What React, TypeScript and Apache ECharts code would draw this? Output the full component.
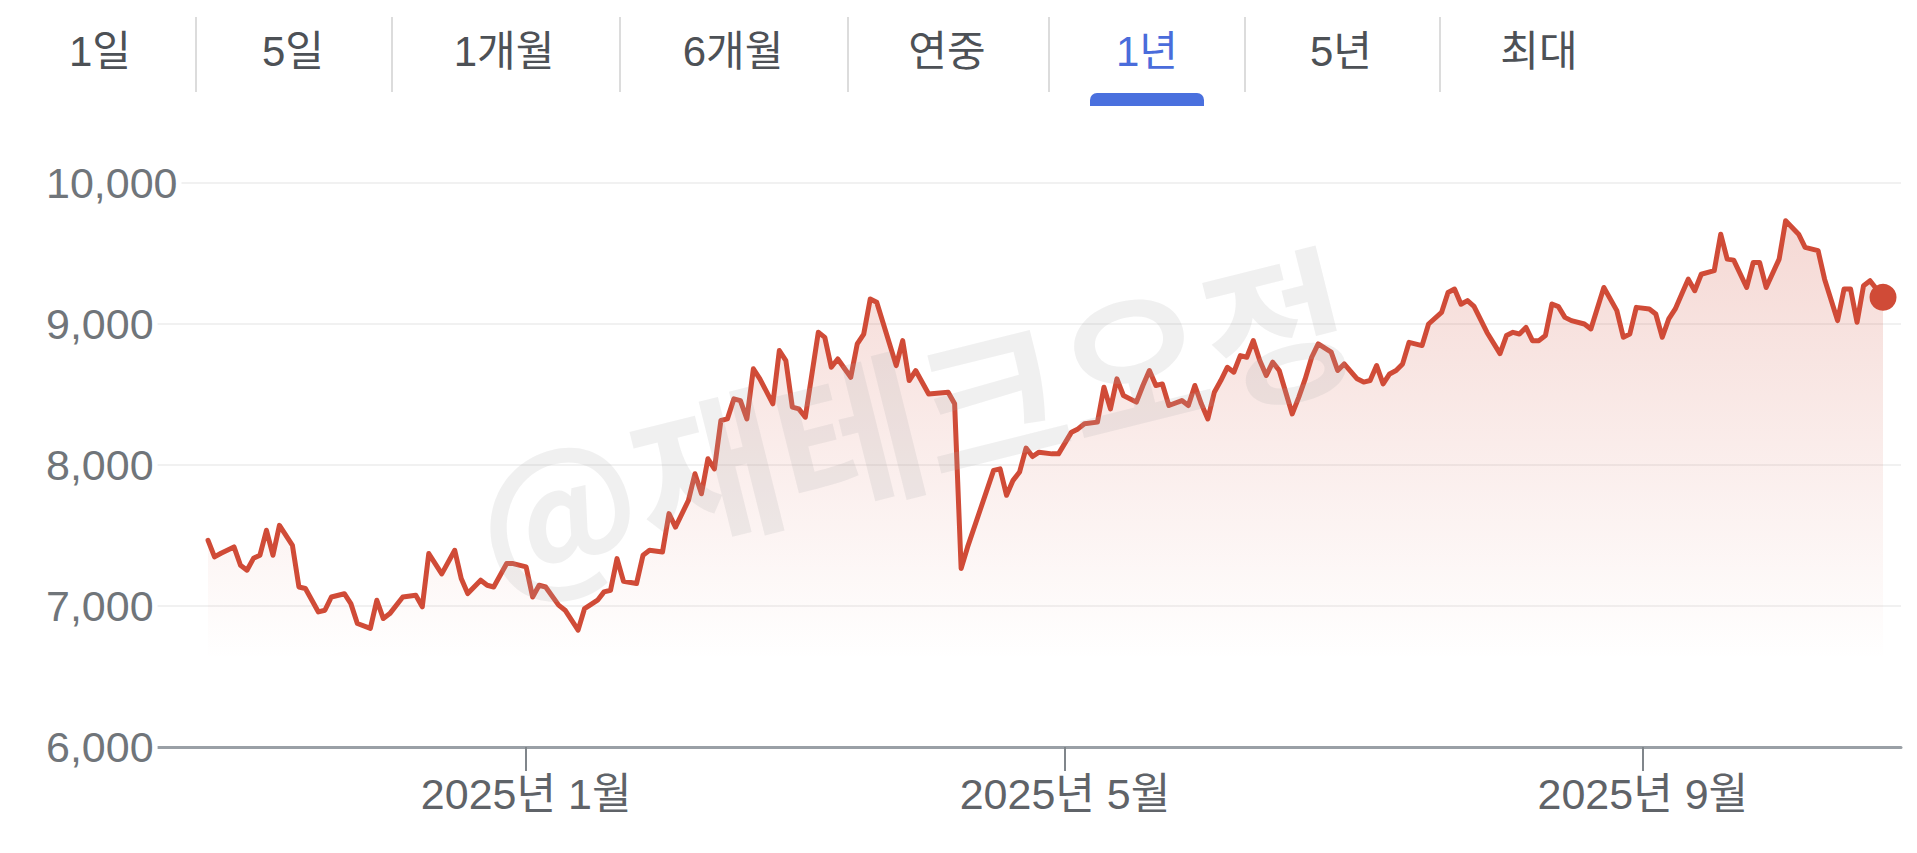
import React, { useEffect, useRef } from "react";
import * as echarts from "echarts";

// ---- data ----
const tabLabels = ["1일", "5일", "1개월", "6개월", "연중", "1년", "5년", "최대"];
const activeTab = "1년";
const yMin = 6000;
const yMax = 10000;
const yStep = 1000;
const xTickDays = [49, 132, 221];
const xTickLabels = ["2025년 1월", "2025년 5월", "2025년 9월"];
const watermarkText = "@재테크오정";

// trading-day index of each traced point
const days = [
  0, 1, 2, 4, 5, 6, 7, 8, 9, 10, 11, 13, 14, 15, 17, 18, 19, 21, 22, 23, 25, 26, 27, 28, 30, 32, 33, 34, 36, 38,
  39, 40, 42, 43, 44, 46, 47, 49, 50, 51, 52, 54, 55, 57, 58, 60, 61, 62, 63, 64, 66, 67, 68, 70, 71, 72, 74, 75,
  76, 77, 78, 79, 80, 81, 82, 83, 84, 85, 87, 88, 89, 90, 91, 92, 94, 95, 96, 97, 99, 100, 101, 102, 103, 106, 107,
  108, 109, 111, 114, 115, 116, 117, 121, 122, 123, 124, 125, 126, 127, 128, 130, 131, 133, 134, 135, 137, 138, 139,
  140, 141, 143, 144, 145, 146, 147, 148, 150, 151, 152, 153, 154, 155, 156, 157, 158, 159, 160, 161, 162, 163, 164,
  165, 167, 168, 169, 170, 171, 173, 174, 175, 177, 178, 179, 180, 181, 182, 183, 184, 185, 187, 188, 190, 191, 192,
  193, 194, 195, 197, 199, 200, 201, 202, 203, 204, 205, 206, 207, 208, 209, 210, 212, 213, 215, 217, 218, 219, 220,
  222, 223, 224, 225, 226, 227, 228, 229, 230, 232, 233, 234, 235, 237, 238, 239, 240, 242, 243, 245, 246, 248, 249,
  251, 252, 253, 254, 255, 256, 257, 258,
];
const prices = [
  7466, 7348, 7374, 7419, 7289, 7254, 7338, 7360, 7537, 7360, 7572, 7430, 7135, 7124, 6958, 6970, 7064, 7087, 7017,
  6876, 6841, 7041, 6911, 6946, 7064, 7076, 6994, 7372, 7228, 7395,
  7195, 7088, 7183, 7147, 7135, 7301, 7301, 7277, 7064, 7147, 7135, 7006, 6970, 6829, 6982, 7041, 7100, 7112, 7336,
  7175, 7159, 7360, 7395, 7383, 7655, 7560, 7749, 7938,
  7796, 8044, 7973, 8316, 8327, 8469, 8457, 8327, 8682, 8611, 8434, 8812, 8741, 8410, 8398, 8339, 8941, 8905, 8693,
  8752, 8622, 8859, 8929, 9177, 9154, 8705, 8882,
  8599, 8670, 8504, 8516, 8434, 7266, 7419, 7962, 7973, 7785, 7891, 7950, 8120, 8060, 8091, 8079, 8079, 8233, 8256,
  8292, 8304, 8552, 8398,
  8611, 8493, 8446, 8564, 8670, 8564, 8575, 8422, 8457, 8422, 8564, 8434, 8327, 8516, 8599, 8693, 8658, 8776, 8764,
  8882, 8741, 8635, 8729,
  8670, 8362, 8480, 8611, 8764, 8859, 8800, 8670, 8717, 8611, 8588, 8599, 8705, 8575, 8646, 8670, 8717, 8870, 8847,
  9000, 9082, 9224, 9248,
  9140, 9166, 9125, 8940, 8790, 8918, 8941, 8929, 8976, 8882, 8882, 8918, 9142, 9123, 9047, 9024, 9000, 8965, 9259,
  9095, 8906, 8929, 9118,
  9107, 9071, 8906, 9036, 9107, 9212, 9318, 9236, 9353, 9378, 9637, 9460, 9453, 9259, 9436, 9436, 9259, 9460, 9732,
  9637, 9543, 9520, 9318,
  9024, 9248, 9248, 9012, 9272, 9307, 9248, 9189,
];

// ---- layout / style ----
const W = 1917;
const H = 853;
const FONT = 'Arial, "Liberation Sans", "Noto Sans CJK KR", sans-serif';
const LINE_COLOR = "#d04b37";
const tabCenters = [100, 293, 504, 733, 947, 1147, 1341, 1539];
const sepX = [196, 392, 620, 848, 1049, 1245, 1440];

export default function App() {
  const ref = useRef<HTMLDivElement>(null);

  useEffect(() => {
    if (!ref.current) return;
    const chart = echarts.init(ref.current, null, { renderer: "svg" });

    const lineData = days.map((d, i) => [d, prices[i]]);
    const last = lineData[lineData.length - 1];

    const graphics: any[] = [];
    tabLabels.forEach((t, i) => {
      const active = t === activeTab;
      graphics.push({
        type: "text",
        x: tabCenters[i],
        y: 51,
        style: {
          text: t,
          fontSize: 42,
          fontFamily: FONT,
          fill: active ? "#4a6cdb" : "#4d5156",
          align: "center",
          verticalAlign: "middle",
        },
      });
      if (active) {
        graphics.push({
          type: "rect",
          shape: { x: tabCenters[i] - 57, y: 93, width: 114, height: 13, r: [7, 7, 0, 0] },
          style: { fill: "#4a70de" },
        });
      }
    });
    sepX.forEach((x) => {
      graphics.push({
        type: "line",
        shape: { x1: x, y1: 17, x2: x, y2: 92 },
        style: { stroke: "#dcdcdc", lineWidth: 2 },
      });
    });
    graphics.push({
      type: "text",
      x: 912,
      y: 412,
      rotation: (14 * Math.PI) / 180,
      z: 100,
      style: {
        text: watermarkText,
        fontSize: 160,
        fontWeight: "bold",
        fontFamily: '"Noto Sans CJK KR", sans-serif',
        fill: "rgba(170,170,170,0.18)",
        align: "center",
        verticalAlign: "middle",
      },
    });

    chart.setOption({
      animation: false,
      backgroundColor: "#ffffff",
      grid: { left: 157, right: 16, top: 183, bottom: 106, containLabel: false },
      xAxis: {
        type: "value",
        min: -7.86,
        max: 260.77,
        splitLine: { show: false },
        axisLine: { show: true, onZero: false, lineStyle: { color: "#9aa0a6", width: 3 } },
        axisTick: {
          show: true,
          customValues: xTickDays,
          length: 24,
          lineStyle: { color: "#80868b", width: 2 },
        },
        axisLabel: {
          customValues: xTickDays,
          formatter: (v: number) => {
            const k = xTickDays.indexOf(Math.round(v));
            return k >= 0 ? xTickLabels[k] : "";
          },
          fontSize: 43,
          fontFamily: FONT,
          color: "#5f6368",
          margin: 25,
        },
      },
      yAxis: {
        type: "value",
        min: yMin,
        max: yMax,
        interval: yStep,
        axisLine: { show: false },
        axisTick: { show: false },
        splitLine: { show: true, lineStyle: { color: "#f1f1f1", width: 2 } },
        axisLabel: {
          formatter: (v: number) => v.toLocaleString("en-US"),
          align: "left",
          margin: 111,
          fontSize: 43,
          fontFamily: FONT,
          color: "#70757a",
          backgroundColor: "#ffffff",
          padding: [0, 4, 0, 0],
        },
      },
      series: [
        {
          type: "line",
          data: lineData,
          symbol: "none",
          lineStyle: { color: LINE_COLOR, width: 5, join: "round", cap: "round" },
          areaStyle: {
            origin: "start",
            color: new echarts.graphic.LinearGradient(
              0,
              183,
              0,
              660,
              [
                { offset: 0, color: "rgba(208,75,55,0.33)" },
                { offset: 1, color: "rgba(208,75,55,0)" },
              ],
              true
            ),
          },
          z: 3,
        },
        {
          type: "scatter",
          data: [last],
          symbol: "circle",
          symbolSize: 27,
          itemStyle: { color: LINE_COLOR, opacity: 1 },
          z: 4,
        },
      ],
      graphic: graphics,
    });

    return () => chart.dispose();
  }, []);

  return (
    <div
      ref={ref}
      style={{ position: "absolute", left: 0, top: 0, width: W, height: H }}
    />
  );
}
